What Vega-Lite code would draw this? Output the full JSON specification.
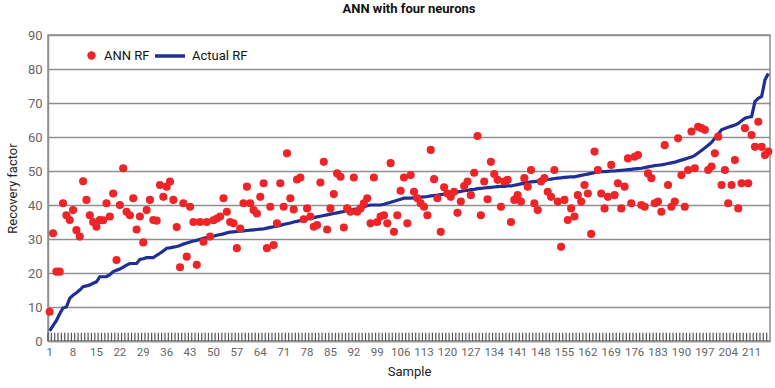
{
  "$schema": "https://vega.github.io/schema/vega-lite/v6.json",
  "width": 722,
  "height": 306,
  "autosize": "none",
  "padding": {"left": 48, "top": 35, "right": 5, "bottom": 47},
  "background": "white",
  "title": {"text": "ANN with four neurons", "font": "Roboto", "fontSize": 13, "fontWeight": "bold", "color": "#111111", "anchor": "middle", "offset": 13},
  "config": {
    "view": {"stroke": "#8f8f8f", "strokeWidth": 1.5},
    "axisY": {"ticks": false, "labelPadding": 6, "grid": true, "gridColor": "#8f8f8f", "gridWidth": 1.5, "domainColor": "#8f8f8f", "domainWidth": 1.5,
      "labelColor": "#666666", "labelFont": "Roboto", "labelFontSize": 13, "titleFont": "Roboto", "titleFontSize": 13, "titleFontWeight": "normal", "titleColor": "#222222", "titlePadding": 8}
  },
  "data": {"values": [
{"Sample":1,"ANN_RF":8.6,"Actual_RF":3},{"Sample":2,"ANN_RF":31.7,"Actual_RF":4.5},{"Sample":3,"ANN_RF":20.4,"Actual_RF":6},{"Sample":4,"ANN_RF":20.4,"Actual_RF":8},{"Sample":5,"ANN_RF":40.5,"Actual_RF":9.7},{"Sample":6,"ANN_RF":37,"Actual_RF":10},{"Sample":7,"ANN_RF":35.6,"Actual_RF":12.5},{"Sample":8,"ANN_RF":38.5,"Actual_RF":13.5},{"Sample":9,"ANN_RF":32.6,"Actual_RF":14.2},{"Sample":10,"ANN_RF":30.7,"Actual_RF":15},
{"Sample":11,"ANN_RF":47,"Actual_RF":16},{"Sample":12,"ANN_RF":41.5,"Actual_RF":16.2},{"Sample":13,"ANN_RF":37,"Actual_RF":16.5},{"Sample":14,"ANN_RF":35,"Actual_RF":17},{"Sample":15,"ANN_RF":33.6,"Actual_RF":17.4},{"Sample":16,"ANN_RF":35.6,"Actual_RF":18.9},{"Sample":17,"ANN_RF":35.5,"Actual_RF":18.9},{"Sample":18,"ANN_RF":40.5,"Actual_RF":18.9},{"Sample":19,"ANN_RF":36.6,"Actual_RF":19.5},{"Sample":20,"ANN_RF":43.4,"Actual_RF":20.4},
{"Sample":21,"ANN_RF":23.8,"Actual_RF":20.8},{"Sample":22,"ANN_RF":40,"Actual_RF":21.2},{"Sample":23,"ANN_RF":50.8,"Actual_RF":21.7},{"Sample":24,"ANN_RF":38,"Actual_RF":22.3},{"Sample":25,"ANN_RF":37,"Actual_RF":22.8},{"Sample":26,"ANN_RF":42,"Actual_RF":22.8},{"Sample":27,"ANN_RF":32.8,"Actual_RF":22.8},{"Sample":28,"ANN_RF":36.6,"Actual_RF":24},{"Sample":29,"ANN_RF":29,"Actual_RF":24.2},{"Sample":30,"ANN_RF":38.5,"Actual_RF":24.5},
{"Sample":31,"ANN_RF":41.5,"Actual_RF":24.5},{"Sample":32,"ANN_RF":35.6,"Actual_RF":24.5},{"Sample":33,"ANN_RF":35.4,"Actual_RF":25.2},{"Sample":34,"ANN_RF":45.9,"Actual_RF":25.8},{"Sample":35,"ANN_RF":42.4,"Actual_RF":26.5},{"Sample":36,"ANN_RF":45.4,"Actual_RF":27.3},{"Sample":37,"ANN_RF":46.9,"Actual_RF":27.4},{"Sample":38,"ANN_RF":41.5,"Actual_RF":27.6},{"Sample":39,"ANN_RF":33.5,"Actual_RF":27.8},{"Sample":40,"ANN_RF":21.7,"Actual_RF":28.1},
{"Sample":41,"ANN_RF":40.5,"Actual_RF":28.5},{"Sample":42,"ANN_RF":24.8,"Actual_RF":28.8},{"Sample":43,"ANN_RF":39.5,"Actual_RF":29.1},{"Sample":44,"ANN_RF":35,"Actual_RF":29.4},{"Sample":45,"ANN_RF":22.4,"Actual_RF":29.6},{"Sample":46,"ANN_RF":35,"Actual_RF":29.9},{"Sample":47,"ANN_RF":29.2,"Actual_RF":30.2},{"Sample":48,"ANN_RF":35,"Actual_RF":30.4},{"Sample":49,"ANN_RF":30.7,"Actual_RF":30.6},{"Sample":50,"ANN_RF":35.5,"Actual_RF":30.8},
{"Sample":51,"ANN_RF":36,"Actual_RF":31.1},{"Sample":52,"ANN_RF":36.6,"Actual_RF":31.3},{"Sample":53,"ANN_RF":42,"Actual_RF":31.5},{"Sample":54,"ANN_RF":38,"Actual_RF":31.8},{"Sample":55,"ANN_RF":35,"Actual_RF":32},{"Sample":56,"ANN_RF":34.6,"Actual_RF":32.1},{"Sample":57,"ANN_RF":27.3,"Actual_RF":32.2},{"Sample":58,"ANN_RF":33.1,"Actual_RF":32.3},{"Sample":59,"ANN_RF":40.5,"Actual_RF":32.4},{"Sample":60,"ANN_RF":45.4,"Actual_RF":32.5},
{"Sample":61,"ANN_RF":40.5,"Actual_RF":32.6},{"Sample":62,"ANN_RF":38.5,"Actual_RF":32.7},{"Sample":63,"ANN_RF":37.5,"Actual_RF":32.8},{"Sample":64,"ANN_RF":42.4,"Actual_RF":32.9},{"Sample":65,"ANN_RF":46.4,"Actual_RF":33},{"Sample":66,"ANN_RF":27.3,"Actual_RF":33.2},{"Sample":67,"ANN_RF":39.5,"Actual_RF":33.4},{"Sample":68,"ANN_RF":28.2,"Actual_RF":33.6},{"Sample":69,"ANN_RF":34.6,"Actual_RF":33.8},{"Sample":70,"ANN_RF":46.4,"Actual_RF":34},
{"Sample":71,"ANN_RF":39.5,"Actual_RF":34.3},{"Sample":72,"ANN_RF":55.2,"Actual_RF":34.5},{"Sample":73,"ANN_RF":42,"Actual_RF":34.7},{"Sample":74,"ANN_RF":38.7,"Actual_RF":35},{"Sample":75,"ANN_RF":47.5,"Actual_RF":35.2},{"Sample":76,"ANN_RF":48.1,"Actual_RF":35.4},{"Sample":77,"ANN_RF":35.8,"Actual_RF":35.6},{"Sample":78,"ANN_RF":39,"Actual_RF":35.9},{"Sample":79,"ANN_RF":36.6,"Actual_RF":36.1},{"Sample":80,"ANN_RF":33.6,"Actual_RF":36.3},
{"Sample":81,"ANN_RF":34.1,"Actual_RF":36.5},{"Sample":82,"ANN_RF":46.6,"Actual_RF":36.7},{"Sample":83,"ANN_RF":52.7,"Actual_RF":36.9},{"Sample":84,"ANN_RF":32.8,"Actual_RF":37.1},{"Sample":85,"ANN_RF":39,"Actual_RF":37.3},{"Sample":86,"ANN_RF":43.2,"Actual_RF":37.5},{"Sample":87,"ANN_RF":49.3,"Actual_RF":37.7},{"Sample":88,"ANN_RF":48.3,"Actual_RF":37.9},{"Sample":89,"ANN_RF":33.4,"Actual_RF":38.1},{"Sample":90,"ANN_RF":39,"Actual_RF":38.3},
{"Sample":91,"ANN_RF":38,"Actual_RF":38.5},{"Sample":92,"ANN_RF":48.1,"Actual_RF":38.7},{"Sample":93,"ANN_RF":38,"Actual_RF":38.9},{"Sample":94,"ANN_RF":39,"Actual_RF":39.2},{"Sample":95,"ANN_RF":40.5,"Actual_RF":39.5},{"Sample":96,"ANN_RF":42,"Actual_RF":39.8},{"Sample":97,"ANN_RF":34.6,"Actual_RF":40},{"Sample":98,"ANN_RF":48.1,"Actual_RF":40},{"Sample":99,"ANN_RF":35,"Actual_RF":40},{"Sample":100,"ANN_RF":36.6,"Actual_RF":40},
{"Sample":101,"ANN_RF":37,"Actual_RF":40.2},{"Sample":102,"ANN_RF":34.6,"Actual_RF":40.5},{"Sample":103,"ANN_RF":52.3,"Actual_RF":40.8},{"Sample":104,"ANN_RF":32.1,"Actual_RF":41.1},{"Sample":105,"ANN_RF":37,"Actual_RF":41.4},{"Sample":106,"ANN_RF":44.2,"Actual_RF":41.7},{"Sample":107,"ANN_RF":48.1,"Actual_RF":42},{"Sample":108,"ANN_RF":34.6,"Actual_RF":42},{"Sample":109,"ANN_RF":48.8,"Actual_RF":42},{"Sample":110,"ANN_RF":43.9,"Actual_RF":42.1},
{"Sample":111,"ANN_RF":42,"Actual_RF":42.2},{"Sample":112,"ANN_RF":40.5,"Actual_RF":42.3},{"Sample":113,"ANN_RF":39.5,"Actual_RF":42.4},{"Sample":114,"ANN_RF":37,"Actual_RF":42.5},{"Sample":115,"ANN_RF":56.2,"Actual_RF":42.7},{"Sample":116,"ANN_RF":47.6,"Actual_RF":42.8},{"Sample":117,"ANN_RF":42,"Actual_RF":42.9},{"Sample":118,"ANN_RF":32.1,"Actual_RF":43.1},{"Sample":119,"ANN_RF":45.2,"Actual_RF":43.2},{"Sample":120,"ANN_RF":43.4,"Actual_RF":43.4},
{"Sample":121,"ANN_RF":42.4,"Actual_RF":43.5},{"Sample":122,"ANN_RF":43.9,"Actual_RF":43.7},{"Sample":123,"ANN_RF":37.7,"Actual_RF":43.8},{"Sample":124,"ANN_RF":41,"Actual_RF":44},{"Sample":125,"ANN_RF":45.6,"Actual_RF":44.2},{"Sample":126,"ANN_RF":46.9,"Actual_RF":44.3},{"Sample":127,"ANN_RF":42.9,"Actual_RF":44.5},{"Sample":128,"ANN_RF":49.5,"Actual_RF":44.6},{"Sample":129,"ANN_RF":60.3,"Actual_RF":44.8},{"Sample":130,"ANN_RF":37,"Actual_RF":44.9},
{"Sample":131,"ANN_RF":46.9,"Actual_RF":45},{"Sample":132,"ANN_RF":41.7,"Actual_RF":45.1},{"Sample":133,"ANN_RF":52.7,"Actual_RF":45.2},{"Sample":134,"ANN_RF":49.1,"Actual_RF":45.3},{"Sample":135,"ANN_RF":47.4,"Actual_RF":45.4},{"Sample":136,"ANN_RF":39.5,"Actual_RF":45.5},{"Sample":137,"ANN_RF":46.9,"Actual_RF":45.5},{"Sample":138,"ANN_RF":47.4,"Actual_RF":45.6},{"Sample":139,"ANN_RF":35,"Actual_RF":45.6},{"Sample":140,"ANN_RF":41.5,"Actual_RF":45.8},
{"Sample":141,"ANN_RF":42.9,"Actual_RF":46},{"Sample":142,"ANN_RF":41,"Actual_RF":46.2},{"Sample":143,"ANN_RF":47.9,"Actual_RF":46.4},{"Sample":144,"ANN_RF":45.4,"Actual_RF":46.6},{"Sample":145,"ANN_RF":50.3,"Actual_RF":46.8},{"Sample":146,"ANN_RF":40.5,"Actual_RF":46.9},{"Sample":147,"ANN_RF":38.5,"Actual_RF":47},{"Sample":148,"ANN_RF":46.9,"Actual_RF":47.2},{"Sample":149,"ANN_RF":47.9,"Actual_RF":47.3},{"Sample":150,"ANN_RF":43.9,"Actual_RF":47.5},
{"Sample":151,"ANN_RF":42.4,"Actual_RF":47.6},{"Sample":152,"ANN_RF":50.3,"Actual_RF":47.8},{"Sample":153,"ANN_RF":41,"Actual_RF":47.9},{"Sample":154,"ANN_RF":27.7,"Actual_RF":48},{"Sample":155,"ANN_RF":41.5,"Actual_RF":48.1},{"Sample":156,"ANN_RF":35.6,"Actual_RF":48.2},{"Sample":157,"ANN_RF":39,"Actual_RF":48.3},{"Sample":158,"ANN_RF":36.6,"Actual_RF":48.3},{"Sample":159,"ANN_RF":42.9,"Actual_RF":48.5},{"Sample":160,"ANN_RF":41,"Actual_RF":48.7},
{"Sample":161,"ANN_RF":45.9,"Actual_RF":48.9},{"Sample":162,"ANN_RF":43.4,"Actual_RF":49.1},{"Sample":163,"ANN_RF":31.5,"Actual_RF":49.3},{"Sample":164,"ANN_RF":55.7,"Actual_RF":49.5},{"Sample":165,"ANN_RF":50.3,"Actual_RF":49.7},{"Sample":166,"ANN_RF":43.4,"Actual_RF":49.8},{"Sample":167,"ANN_RF":39,"Actual_RF":49.8},{"Sample":168,"ANN_RF":42.4,"Actual_RF":49.9},{"Sample":169,"ANN_RF":51.8,"Actual_RF":50},{"Sample":170,"ANN_RF":42.9,"Actual_RF":50},
{"Sample":171,"ANN_RF":46.4,"Actual_RF":50.1},{"Sample":172,"ANN_RF":39,"Actual_RF":50.2},{"Sample":173,"ANN_RF":45.4,"Actual_RF":50.3},{"Sample":174,"ANN_RF":53.7,"Actual_RF":50.4},{"Sample":175,"ANN_RF":40.5,"Actual_RF":50.5},{"Sample":176,"ANN_RF":54.2,"Actual_RF":50.6},{"Sample":177,"ANN_RF":54.7,"Actual_RF":50.7},{"Sample":178,"ANN_RF":40,"Actual_RF":50.8},{"Sample":179,"ANN_RF":39.5,"Actual_RF":51},{"Sample":180,"ANN_RF":49.3,"Actual_RF":51.2},
{"Sample":181,"ANN_RF":47.9,"Actual_RF":51.4},{"Sample":182,"ANN_RF":40.5,"Actual_RF":51.6},{"Sample":183,"ANN_RF":41,"Actual_RF":51.7},{"Sample":184,"ANN_RF":38,"Actual_RF":51.8},{"Sample":185,"ANN_RF":57.6,"Actual_RF":52},{"Sample":186,"ANN_RF":45.9,"Actual_RF":52.2},{"Sample":187,"ANN_RF":39.5,"Actual_RF":52.4},{"Sample":188,"ANN_RF":41,"Actual_RF":52.6},{"Sample":189,"ANN_RF":59.6,"Actual_RF":52.9},{"Sample":190,"ANN_RF":48.8,"Actual_RF":53.2},
{"Sample":191,"ANN_RF":39.5,"Actual_RF":53.5},{"Sample":192,"ANN_RF":50.3,"Actual_RF":53.8},{"Sample":193,"ANN_RF":61.6,"Actual_RF":54.1},{"Sample":194,"ANN_RF":50.8,"Actual_RF":54.6},{"Sample":195,"ANN_RF":63,"Actual_RF":55.3},{"Sample":196,"ANN_RF":62.6,"Actual_RF":56},{"Sample":197,"ANN_RF":62.1,"Actual_RF":56.8},{"Sample":198,"ANN_RF":50.3,"Actual_RF":57.6},{"Sample":199,"ANN_RF":51.3,"Actual_RF":58.4},{"Sample":200,"ANN_RF":55.2,"Actual_RF":59.6},
{"Sample":201,"ANN_RF":60.1,"Actual_RF":60.8},{"Sample":202,"ANN_RF":45.9,"Actual_RF":62.1},{"Sample":203,"ANN_RF":50.3,"Actual_RF":62.5},{"Sample":204,"ANN_RF":40.5,"Actual_RF":62.9},{"Sample":205,"ANN_RF":45.9,"Actual_RF":63.2},{"Sample":206,"ANN_RF":53.2,"Actual_RF":63.5},{"Sample":207,"ANN_RF":39,"Actual_RF":64},{"Sample":208,"ANN_RF":46.4,"Actual_RF":64.8},{"Sample":209,"ANN_RF":62.6,"Actual_RF":65.5},{"Sample":210,"ANN_RF":46.4,"Actual_RF":65.8},
{"Sample":211,"ANN_RF":60.6,"Actual_RF":66},{"Sample":212,"ANN_RF":57.1,"Actual_RF":70.4},{"Sample":213,"ANN_RF":64.5,"Actual_RF":71.4},{"Sample":214,"ANN_RF":57.1,"Actual_RF":71.9},{"Sample":215,"ANN_RF":54.7,"Actual_RF":76.8},{"Sample":216,"ANN_RF":55.7,"Actual_RF":78.7}
  ]},
  "encoding": {
    "x": {"field": "Sample", "type": "ordinal", "title": "Sample",
      "scale": {"paddingInner": 0, "paddingOuter": 0},
      "axis": {"labelExpr": "(datum.value - 1) % 7 == 0 ? datum.label : ''", "labelOverlap": false, "labelAngle": 0,
        "ticks": false, "labelPadding": 5,
        "domainColor": "#8f8f8f", "domainWidth": 1.5, "grid": false,
        "labelColor": "#666666", "labelFont": "Roboto", "labelFontSize": 11.5,
        "titleFont": "Roboto", "titleFontSize": 13, "titleFontWeight": "normal", "titleColor": "#222222", "titlePadding": 8}}
  },
  "layer": [
    {"mark": {"type": "rule", "color": "#555555", "strokeWidth": 1.2},
     "encoding": {
       "x": {"field": "Sample", "type": "ordinal", "bandPosition": 0},
       "y": {"datum": 0, "type": "quantitative", "title": "Recovery factor",
         "scale": {"domain": [0, 90], "nice": false},
         "axis": {"values": [0, 10, 20, 30, 40, 50, 60, 70, 80, 90]}},
       "y2": {"datum": 2.4}
     }},
    {"mark": {"type": "line", "strokeWidth": 3.2, "interpolate": "linear"},
     "encoding": {
       "y": {"field": "Actual_RF", "type": "quantitative", "title": "Recovery factor",
         "scale": {"domain": [0, 90], "nice": false},
         "axis": {"values": [0, 10, 20, 30, 40, 50, 60, 70, 80, 90]}},
       "stroke": {"datum": "Actual RF", "scale": {"range": ["#1f2f94"]},
         "legend": {"orient": "none", "legendX": 105, "legendY": 4, "title": null, "symbolType": "stroke", "symbolSize": 900, "symbolStrokeWidth": 3.5, "padding": 0, "labelOffset": 5,
           "labelFont": "Roboto", "labelFontSize": 13, "labelColor": "#111111"}}
     }},
    {"mark": {"type": "circle", "size": 66, "opacity": 1},
     "encoding": {
       "y": {"field": "ANN_RF", "type": "quantitative", "title": "Recovery factor",
         "scale": {"domain": [0, 90], "nice": false},
         "axis": {"values": [0, 10, 20, 30, 40, 50, 60, 70, 80, 90]}},
       "fill": {"datum": "ANN RF", "scale": {"range": ["#ee2528"]},
         "legend": {"orient": "none", "legendX": 37, "legendY": 14, "title": null, "symbolType": "circle", "symbolSize": 70, "padding": 0, "labelOffset": 6,
           "labelFont": "Roboto", "labelFontSize": 13, "labelColor": "#111111"}}
     }}
  ]
}
